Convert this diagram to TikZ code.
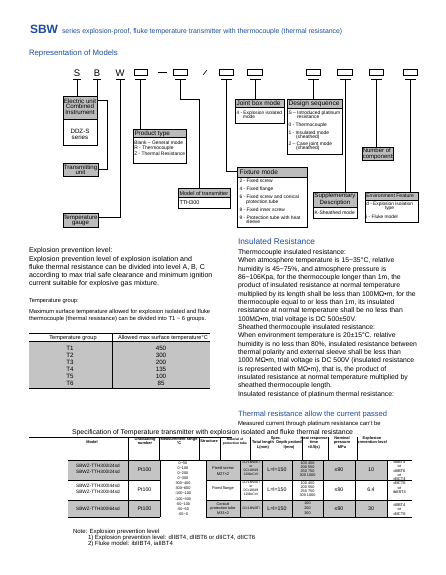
\documentclass[tikz,border=0pt]{standalone}
\usepackage{fontspec}
\setmainfont{Liberation Sans}
\usetikzlibrary{calc}
\definecolor{hblue}{RGB}{31,78,154}
\definecolor{hgray}{RGB}{188,188,188}
\definecolor{tgray}{RGB}{196,196,196}
\newcommand{\myfs}[1]{\fontsize{#1}{#1}\selectfont}
\newcommand{\tld}{\textasciitilde}
\newcommand{\mkbox}[6]{%
  \fill[hgray] (#2,#3) rectangle (#4,#6);
  \draw[bline] (#2,#6) -- (#4,#6);
  \node[draw,bline,anchor=north west,minimum width={#4-#2},minimum height={#5-#3}] (#1) at (#2,#3) {};
}
\begin{document}
\begin{tikzpicture}[x=1pt,y=-1pt,
  every node/.style={inner sep=0pt,outer sep=0pt},
  conn/.style={line width=0.8pt},
  bline/.style={line width=0.8pt},
  tline/.style={line width=0.5pt},
  lbl/.style={anchor=base west},
  ctr/.style={anchor=base},
  codebox/.style={draw,line width=0.7pt,minimum width=14.5,minimum height=6.5},
  codelet/.style={anchor=base,font=\myfs{9.5}},
]
\useasboundingbox (0,0) rectangle (446,575);
\fill[white] (0,0) rectangle (446,575);

% ---------- titles
\node[lbl,font=\myfs{12}\bfseries,text=hblue] (sbw) at (30,33.5) {SBW};
\node[lbl,font=\myfs{6.9},text=hblue] (subt) at (62,33.5) {series explosion-proof, fluke temperature transmitter with thermocouple (thermal resistance)};
\node[lbl,font=\myfs{7.8},text=hblue] (rep) at (29,55.5) {Representation of Models};

% ---------- code row
\node[codelet] (S) at (77,77) {S};
\node[codelet] (B) at (97,77) {B};
\node[codelet] (W) at (120,77) {W};
\node[codebox,minimum width=13] (c1) at (140.5,72.5) {};
\node[fill=black,minimum width=9,minimum height=1.8] (dash) at (162,72.5) {};
\node[codebox] (c2) at (180.5,72.5) {};
\coordinate (slash) at (205,72.5);
\draw[line width=0.6pt] ($(slash)+(-1.8,2.3)$) -- ($(slash)+(1.8,-2.3)$);
\node[codebox] (c3) at (226.5,72.5) {};
\node[codebox,minimum width=15.5] (c4) at (255,72.5) {};
\node[codebox] (c5) at (313.5,72.5) {};
\node[codebox,minimum width=15.5] (c6) at (345,72.5) {};
\node[codebox] (c7) at (376.5,72.5) {};
\node[codebox] (c8) at (410.5,72.5) {};
\foreach \n/\w in {S/4,B/4,W/4.5,c1/5.5,c2/5.5,c3/5.5,c4/5.5,c5/5.5,c6/5.5,c7/5.5,c8/5.5} {
  \coordinate (u\n) at (\n |- 0,79);
  \draw[bline] ($(u\n)+(-\w,0)$) -- ($(u\n)+(\w,0)$);
}

% ---------- boxes
\mkbox{elec}{63}{96}{97}{145}{119}
\mkbox{trans}{63}{163}{98}{176}{176}
\mkbox{temp}{63}{213}{98}{227}{227}
\mkbox{prod}{133}{129}{186}{163}{137}
\mkbox{model}{178}{188}{230}{208}{197}
\mkbox{fix}{237}{167}{307}{227}{177}
\mkbox{joint}{235}{99}{284}{123}{107}
\mkbox{design}{287}{99}{342}{154}{108}
\mkbox{number}{362}{147}{393}{160}{160}
\mkbox{supp}{313}{192}{357}{218}{207}
\mkbox{env}{365}{192}{418}{222}{200}

% box texts
\node[ctr,font=\myfs{6.2}] (e1) at (80,103) {Electric unit};
\node[ctr,font=\myfs{6.2}] (e2) at (80,108.8) {Combined};
\node[ctr,font=\myfs{6.2}] (e3) at (80,114.6) {Instrument};
\node[ctr,font=\myfs{6.2}] (e4) at (80,133) {DDZ-S};
\node[ctr,font=\myfs{6.2}] (e5) at (80,139.5) {series};
\node[ctr,font=\myfs{6.1}] (t1) at (80.5,169) {Transmitting};
\node[ctr,font=\myfs{6.1}] (t2) at (80.5,174.6) {unit};
\node[ctr,font=\myfs{6.1}] (g1) at (80.5,219) {Temperature};
\node[ctr,font=\myfs{6.1}] (g2) at (80.5,224.8) {gauge};

\node[lbl,font=\myfs{6.3}] (p0) at (134.5,135.5) {Product type};
\node[lbl,font=\myfs{4.9}] (p1) at (134.3,144) {Blank – General mode};
\node[lbl,font=\myfs{4.9}] (p2) at (134.3,149.5) {R - Thermocouple};
\node[lbl,font=\myfs{4.9}] (p3) at (134.3,155) {Z - Thermal Resistance};

\node[lbl,font=\myfs{5.5}] (m0) at (179.5,195) {Model of transmitter};
\node[lbl,font=\myfs{5.5}] (m1) at (179.5,204.5) {TTH300};

\node[lbl,font=\myfs{6.6}] (f0) at (239.5,174.5) {Fixture mode};
\node[lbl,font=\myfs{4.9}] (f1) at (239.5,182.5) {2 - Fixed screw};
\node[lbl,font=\myfs{4.9}] (f2) at (239.5,190.5) {4 - Fixed flange};
\node[lbl,font=\myfs{4.9}] (f3) at (239.5,198.5) {6 - Fixed screw and conical};
\node[lbl,font=\myfs{4.9}] (f4) at (246,203) {protection tube};
\node[lbl,font=\myfs{4.9}] (f5) at (239.5,211.5) {8 - Fixed inner screw};
\node[lbl,font=\myfs{4.9}] (f6) at (239.5,219.5) {9 - Protection tube with heat};
\node[lbl,font=\myfs{4.9}] (f7) at (246,223.8) {sleeve};

\node[lbl,font=\myfs{6.5}] (j0) at (236.5,105.3) {Joint box mode};
\node[lbl,font=\myfs{4.8}] (j1) at (236.5,114) {4 - Explosion isolated};
\node[lbl,font=\myfs{4.8}] (j2) at (243,118.5) {mode};

\node[lbl,font=\myfs{6.6}] (d0) at (288.5,106) {Design sequence};
\node[lbl,font=\myfs{4.9}] (d1) at (288.5,114.3) {S – Introduced platinum};
\node[lbl,font=\myfs{4.9}] (d2) at (297,118.3) {resistance};
\node[lbl,font=\myfs{4.9}] (d3) at (288.5,126.5) {0 - Thermocouple};
\node[lbl,font=\myfs{4.9}] (d4) at (288.5,134.5) {1 - Insulated mode};
\node[lbl,font=\myfs{4.9}] (d5) at (296,138.5) {(sheathed)};
\node[lbl,font=\myfs{4.9}] (d6) at (288.5,145.5) {2 – Case joint mode};
\node[lbl,font=\myfs{4.9}] (d7) at (296,149.5) {(sheathed)};

\begin{scope}
\clip (number.north west) rectangle (number.south east);
\node[lbl,font=\myfs{6}] (n1) at (362.8,152.8) {Number of};
\node[lbl,font=\myfs{6}] (n2) at (362.8,158.2) {components};
\end{scope}

\node[ctr,font=\myfs{6.1}] (s1) at (335,197.5) {Supplementary};
\node[ctr,font=\myfs{6.1}] (s2) at (335,204) {Description};
\node[lbl,font=\myfs{5}] (s3) at (314.5,214.3) {K-Sheathed mode};

\node[lbl,font=\myfs{5.1}] (v0) at (366.3,197.8) {Environment Feature};
\node[lbl,font=\myfs{4.8}] (v1) at (366.3,205.8) {d - Explosion isolation};
\node[lbl,font=\myfs{4.8}] (v2) at (385,209.8) {type};
\node[lbl,font=\myfs{4.8}] (v3) at (366.3,218.3) {i - Fluke model};

% connectors
\draw[conn] (uS) -- (uS |- elec.north);
\coordinate (kB) at (107,100);
\draw[conn] (uB) |- (kB) |- (trans.east);
\draw[conn] (uW) |- ($(temp.north east)!0.3!(temp.south east)$);
\draw[conn] (uc1) -- (uc1 |- prod.north);
\coordinate (k2) at (199,99.5);
\draw[conn] (uc2) |- (k2) -- (k2 |- model.north);
\draw[conn] (uc3) |- ($(fix.north west)!0.13!(fix.west)$);
\draw[conn] (uc4) -- (uc4 |- joint.north);
\draw[conn] (uc5) -- (uc5 |- design.north);
\draw[conn] (uc6) -- (uc6 |- supp.north);
\draw[conn] (uc7) -- (uc7 |- number.north);
\draw[conn] (uc8) -- (uc8 |- env.north);

% ---------- left text
\node[lbl,font=\myfs{7}] (epl) at (29,252) {Explosion prevention level:};
\foreach \t [count=\i] in {{Explosion prevention level of explosion isolation and},{fluke thermal resistance can be divided into level A, B, C},{according to max trial safe clearance and minimum ignition},{current suitable for  explosive gas mixture.}}
  \node[lbl,font=\myfs{7.05}] (ep\i) at (29,{261+8.3*(\i-1)}) {\t};

\node[lbl,font=\myfs{5.7}] (tg) at (29,302.6) {Temperature group:};
\node[lbl,font=\myfs{5.8}] (tg1) at (29,313) {Maximum surface temperature allowed for explosion isolated and fluke};
\node[lbl,font=\myfs{5.8}] (tg2) at (29,320.4) {thermocouple (thermal resistance) can be divided into T1 \tld{} 6 groups.};

% table 1
\fill[tgray] (29,341.5) rectangle (210,388);
\draw[tline] (29,333) -- (210,333);
\node[ctr,font=\myfs{5.6}] (th1) at (73,339) {Temperature group};
\node[ctr,font=\myfs{5.6}] (th2) at (163,339) {Allowed max surface temperature°C};
\draw[bline] (29,341.5) -- (210,341.5);
\draw[bline] (112,333) -- (112,388);
\draw[bline] (29,388) -- (210,388);
\foreach \g/\v [count=\i] in {T1/450,T2/300,T3/200,T4/135,T5/100,T6/85} {
  \node[ctr,font=\myfs{6.2}] (tgr\i) at (70,{350.3+7*(\i-1)}) {\g};
  \node[ctr,font=\myfs{6.2}] (tgv\i) at (161,{350.3+7*(\i-1)}) {\v};
}

% ---------- right text
\node[lbl,font=\myfs{8.3},text=hblue] (insh) at (238,244) {Insulated Resistance};
\foreach \t [count=\i] in {{Thermocouple insulated resistance:},{When atmosphere temperature is 15\tld35°C, relative},{humidity is 45\tld75\%, and atmosphere pressure is},{86\tld106Kpa, for the thermocouple longer than 1m, the},{product of insulated resistance at normal temperature},{multiplied by its length shall be less than 100MΩ•m, for the},{thermocouple equal to or less than 1m, its insulated},{resistance at normal temperature shall be no less than},{100MΩ•m, trial voltage is DC 500±50V.},{Sheathed thermocouple insulated resistance:},{When environment temperature is 20±15°C.  relative},{humidity is no less than 80\%, insulated resistance between},{thermal polarity and external sleeve shall be less than},{1000 MΩ•m, trial voltage is DC 500V (insulated resistance},{is represented with MΩ•m), that is, the product of},{insulated resistance at normal temperature multiplied by},{sheathed thermocouple length.},{Insulated resistance of platinum thermal resistance:}}
  \node[lbl,font=\myfs{6.85}] (ir\i) at (238,{254.3+8.35*(\i-1)}) {\t};

\node[lbl,font=\myfs{7.6},text=hblue] (trh) at (238,416) {Thermal resistance allow the current passed};
\node[lbl,font=\myfs{5.9}] (meas) at (238,425) {Measured current through platinum resistance can't be};

% ---------- table 2
\node[lbl,font=\myfs{6.9}] (spec) at (72,434.5) {Specification of Temperature transmitter with explosion isolated and fluke thermal resistance};
\draw[tline] (29,436.8) -- (232,436.8);
\fill[tgray] (68,460) rectangle (160,480);
\fill[tgray] (206,460) rectangle (387,480);
\fill[tgray] (68,500) rectangle (160,517);
\fill[tgray] (206,500) rectangle (387,517);
\foreach \x in {128,159,199,220,250,302,328,357} \draw[tline] (\x,437) -- (\x,460);
\draw[tline] (68,460) -- (412,460);
\foreach \y in {480,500,517} {
  \draw[tline] (68,\y) -- (160,\y);
  \draw[tline] (206,\y) -- (412,\y);
}
\foreach \x in {128,160,206,240,262,292,323,355,387} \draw[tline] (\x,460) -- (\x,517);

% header texts
\tikzset{hdr/.style={ctr,font=\myfs{3.9}\bfseries}}
\node[hdr] (h1) at (92,443.5) {Model};
\node[hdr] (h2a) at (145,440) {Graduating};
\node[hdr] (h2b) at (145,444.5) {number};
\node[hdr] (h3a) at (179,440) {Measurement range};
\node[hdr] (h3b) at (179,444.5) {°C};
\node[hdr] (h4) at (209,442) {Structure};
\node[ctr,font=\myfs{3.3}\bfseries] (h5a) at (235,440) {Material of};
\node[ctr,font=\myfs{3.3}\bfseries] (h5b) at (235,444) {protection tube};
\node[hdr] (h6) at (276,439) {Spec.};
\node[hdr] (h6a) at (263,443.5) {Total length};
\node[hdr] (h6b) at (263,448) {L(mm)};
\node[hdr] (h6c) at (289,443.5) {Depth probed};
\node[hdr] (h6d) at (289,448) {l(mm)};
\node[hdr] (h7a) at (314,439) {Heat response};
\node[hdr] (h7b) at (314,443.5) {time};
\node[hdr] (h7c) at (314,448) {τ0.5(s)};
\node[hdr] (h8a) at (342,439) {Nominal};
\node[hdr] (h8b) at (342,443.5) {pressure};
\node[hdr] (h8c) at (342,448) {MPa};
\node[hdr] (h9a) at (372,439) {Explosion};
\node[hdr] (h9b) at (372,443.5) {prevention level};

% body texts
\tikzset{bdy/.style={ctr,font=\myfs{4.7}}}
\node[bdy] (mo1) at (98,467.5) {SBWZ-TTH300I24sd};
\node[bdy] (mo2) at (98,473.5) {SBWZ-TTH300I24sd};
\node[bdy] (mo3) at (98,487.5) {SBWZ-TTH300I44sd};
\node[bdy] (mo4) at (98,493.5) {SBWZ-TTH300I44sd};
\node[bdy] (mo5) at (98,510) {SBWZ-TTH300I64sd};
\foreach \y [count=\i] in {471.8,491.8,510.3} {
  \node[ctr,font=\myfs{5.3}] (gn\i) at (144.5,\y) {Pt100};
  \node[ctr,font=\myfs{5.3}] (ll\i) at (277,\y) {L=l=150};
  \node[ctr,font=\myfs{5.3}] (hr\i) at (339,\y) {≤90};
}
\node[ctr,font=\myfs{5.3}] (np1) at (371,471.8) {10};
\node[ctr,font=\myfs{5.3}] (np2) at (371,491.8) {6.4};
\node[ctr,font=\myfs{5.3}] (np3) at (371,510.3) {30};
\foreach \t [count=\i] in {0\tld50,0\tld100,0\tld200,0\tld300,300\tld400,300\tld600,-100\tld100,-100\tld300,-50\tld100,-50\tld50,-50\tld0}
  \node[ctr,font=\myfs{3.8}] (mr\i) at (183,{464.3+5.1*(\i-1)}) {\t};
\node[ctr,font=\myfs{4}] (st1) at (223,469.5) {Fixed screw};
\node[ctr,font=\myfs{4}] (st2) at (223,475.3) {M27×2};
\node[ctr,font=\myfs{4}] (st3) at (223,489.5) {Fixed flange};
\node[ctr,font=\myfs{3.8}] (st4) at (223,505.3) {Conical};
\node[ctr,font=\myfs{3.8}] (st5) at (223,509.8) {protection tube};
\node[ctr,font=\myfs{3.8}] (st6) at (223,514.3) {M33×2};
\foreach \t [count=\i] in {1Cr18Ni9Ti,or,0Cr18Ni9,12MoCrV} {
  \node[ctr,font=\myfs{3.5}] (mt\i) at (251,{463.4+4*(\i-1)}) {\t};
  \node[ctr,font=\myfs{3.5}] (mu\i) at (251,{483.4+4*(\i-1)}) {\t};
}
\node[ctr,font=\myfs{3.5}] (mt5) at (251,509.5) {1Cr18Ni9Ti};
\foreach \t [count=\i] in {100 450,200 550,250 750,300 1000} {
  \node[ctr,font=\myfs{3.8}] (dp\i) at (307.5,{464.3+4*(\i-1)}) {\t};
  \node[ctr,font=\myfs{3.8}] (dq\i) at (307.5,{484.3+4*(\i-1)}) {\t};
}
\foreach \t [count=\i] in {100,200,300}
  \node[ctr,font=\myfs{3.8}] (dr\i) at (307.5,{504.3+5*(\i-1)}) {\t};
\foreach \t [count=\i] in {dIIBT4,or,dIIBT6,or,dIICT4,dIICT6,or,ibIIBT4}
  \node[ctr,font=\myfs{4}] (ex\i) at (399.5,{463.4+4.3*(\i-1)}) {\t};
\foreach \t [count=\i] in {dIIBT4,or,dIICT6}
  \node[ctr,font=\myfs{4}] (ey\i) at (399.5,{506.3+4.5*(\i-1)}) {\t};

% notes
\node[lbl,font=\myfs{6}] (note0) at (73,533) {Note: Explosion prevention level};
\node[lbl,font=\myfs{6}] (note1) at (88,539.5) {1) Explosion prevention level: dIIBT4, dIIBT6 or dIICT4, dIICT6};
\node[lbl,font=\myfs{6}] (note2) at (88,545) {2) Fluke model: ibIIBT4, iaIIBT4};
\end{tikzpicture}
\end{document}
